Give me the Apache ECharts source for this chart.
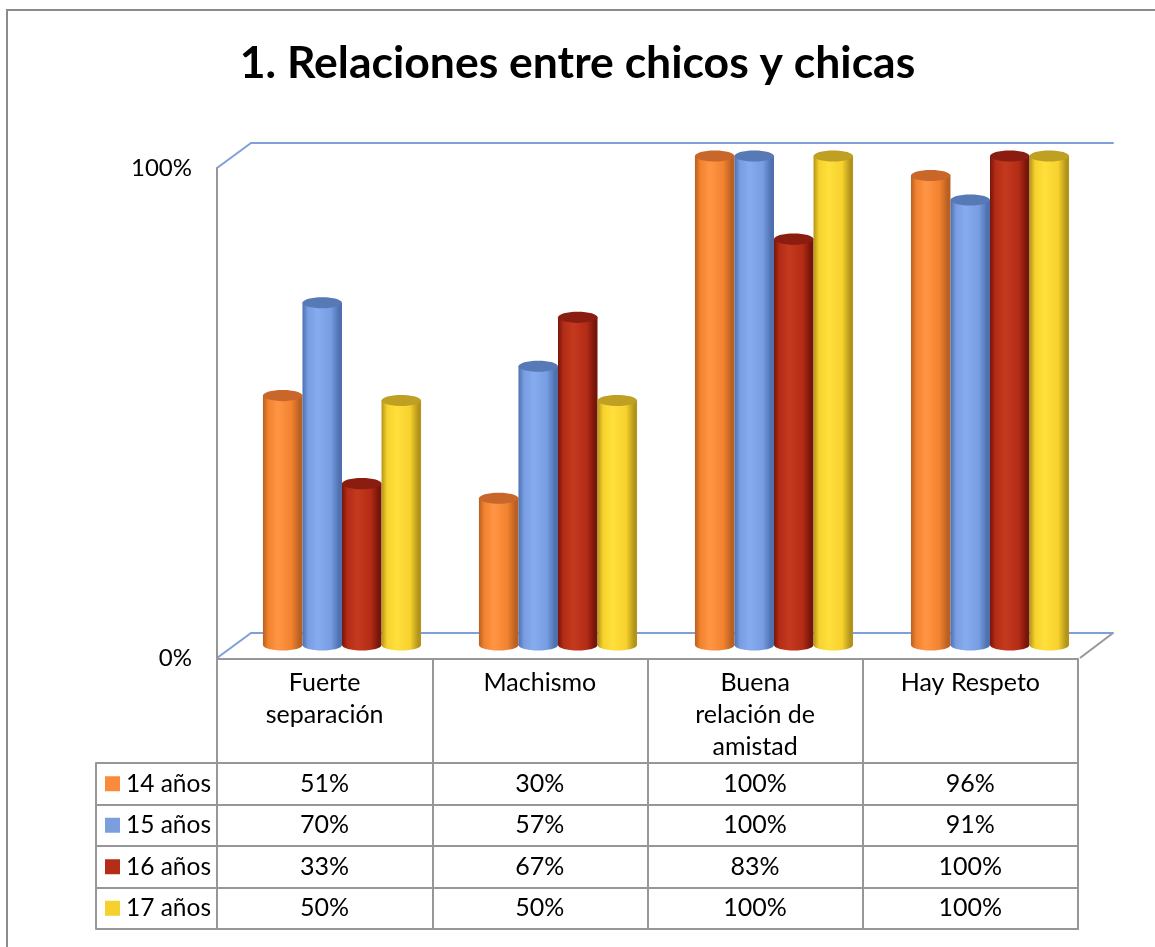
<!DOCTYPE html>
<html>
<head>
<meta charset="utf-8">
<script src="https://cdn.jsdelivr.net/npm/echarts@6/dist/echarts.min.js"></script>
<style>
  html, body { margin: 0; padding: 0; background: #fff; }
  #chart { width: 1155px; height: 947px; }
</style>
</head>
<body>
<div id="chart"></div>
<script>
// data
const categories = ['Fuerte\nseparación', 'Machismo', 'Buena\nrelación de\namistad', 'Hay Respeto'];
const seriesNames = ['14 años', '15 años', '16 años', '17 años'];
const values14 = [51, 30, 100, 96];
const values15 = [70, 57, 100, 91];
const values16 = [33, 67, 83, 100];
const values17 = [50, 50, 100, 100];
const yTicks = [0, 100];

const allValues = [values14, values15, values16, values17];

// styles
const FONT = 'Lato, "Open Sans", sans-serif';
const GRAY = '#979797';
const BLUE = '#7f9fd8';
const keyColors = ['#f98b3a', '#7b9fdd', '#b52c18', '#f5d02e'];
const shades = [
  { edge: '#b95f22', mid: '#f2832f', light: '#ff9545', top: '#c9672b' },
  { edge: '#4e70ae', mid: '#779de2', light: '#86abef', top: '#5779b5' },
  { edge: '#761609', mid: '#b52c17', light: '#c33a1e', top: '#8a1d10' },
  { edge: '#b3941a', mid: '#f7d22d', light: '#ffdf3c', top: '#bfa022' }
];

// layout (front and back planes of the 3D frame)
const FRONT = { left: 217, top: 168, right: 1080, bottom: 658 };
const BACK = { left: 251, top: 143, right: 1113, bottom: 633 };
const GROUP_RATIO = 0.732;

const chart = echarts.init(document.getElementById('chart'));

function cylinder(params, api) {
  const cat = api.value(0);
  const val = api.value(1);
  const base = api.coord([cat, 0]);
  const top = api.coord([cat, val]);
  const band = api.size([1, 0])[0];
  const groupW = band * GROUP_RATIO;
  const w = groupW / seriesNames.length;
  const x0 = base[0] - groupW / 2 + params.seriesIndex * w;
  const cx = x0 + w / 2;
  const ry = w * 0.14;
  const s = shades[params.seriesIndex];
  const body = new echarts.graphic.LinearGradient(0, 0, 1, 0, [
    { offset: 0, color: s.edge },
    { offset: 0.14, color: s.mid },
    { offset: 0.38, color: s.light },
    { offset: 0.72, color: s.mid },
    { offset: 0.93, color: s.edge },
    { offset: 1, color: s.edge }
  ]);
  return {
    type: 'group',
    children: [
      { type: 'ellipse', shape: { cx: cx, cy: base[1], rx: w / 2, ry: ry }, style: { fill: body } },
      { type: 'rect', shape: { x: x0, y: top[1], width: w, height: base[1] - top[1] }, style: { fill: body } },
      { type: 'ellipse', shape: { cx: cx, cy: top[1], rx: w / 2, ry: ry }, style: { fill: s.top } }
    ]
  };
}

const cylinderSeries = seriesNames.map((name, i) => ({
  name: name,
  type: 'custom',
  xAxisIndex: 2,
  yAxisIndex: 2,
  renderItem: cylinder,
  clip: false,
  data: allValues[i].map((v, c) => [c, v])
}));

const tableData = [];
allValues.forEach((row, r) => row.forEach((v, c) => tableData.push([c, r, v])));

const rich = { gap: { width: 6 } };
keyColors.forEach((c, i) => { rich['s' + i] = { width: 15, height: 15, backgroundColor: c }; });

const grayLine = { show: true, onZero: false, lineStyle: { color: GRAY, width: 2 } };
const blueLine = { show: true, onZero: false, lineStyle: { color: BLUE, width: 2 } };

const option = {
  animation: false,
  backgroundColor: '#fff',
  title: {
    text: '1. Relaciones entre chicos y chicas',
    left: 'center',
    top: 36,
    textStyle: { fontFamily: FONT, fontWeight: 'bold', fontSize: 44.5, color: '#000' }
  },
  graphic: [
    { type: 'rect', shape: { x: 7, y: 10, width: 1300, height: 1100 }, style: { fill: null, stroke: '#8c8c8c', lineWidth: 2 }, silent: true, z: -1 },
    { type: 'line', shape: { x1: FRONT.left, y1: FRONT.top, x2: BACK.left, y2: BACK.top }, style: { stroke: BLUE, lineWidth: 2 } },
    { type: 'line', shape: { x1: FRONT.left, y1: FRONT.bottom, x2: BACK.left, y2: BACK.bottom }, style: { stroke: BLUE, lineWidth: 2 } },
    { type: 'line', shape: { x1: FRONT.right, y1: FRONT.bottom, x2: BACK.right, y2: BACK.bottom }, style: { stroke: GRAY, lineWidth: 2 } }
  ],
  grid: [
    // 0: front plane (y axis labels)
    { left: FRONT.left, top: FRONT.top, width: FRONT.right - FRONT.left, height: FRONT.bottom - FRONT.top },
    // 1: back wall
    { left: BACK.left, top: BACK.top, width: BACK.right - BACK.left, height: BACK.bottom - BACK.top },
    // 2: cylinders (mid depth)
    { left: 234, top: 156, width: 864, height: 489 },
    // 3: table header
    { left: 217, top: 659, width: 861, height: 104 },
    // 4: table values
    { left: 217, top: 763, width: 861, height: 166 }
  ],
  xAxis: [
    { gridIndex: 0, type: 'category', data: categories, show: false },
    { gridIndex: 1, type: 'category', data: categories, position: 'top', axisLine: blueLine, axisTick: { show: false }, axisLabel: { show: false } },
    { gridIndex: 2, type: 'category', data: categories, show: false },
    {
      gridIndex: 3, type: 'category', data: categories, position: 'top',
      axisLine: grayLine,
      axisTick: { show: false },
      splitLine: { show: true, interval: 0, lineStyle: { color: GRAY, width: 2 } },
      axisLabel: { inside: true, interval: 0, margin: 8, verticalAlign: 'top', lineHeight: 32, fontFamily: FONT, fontSize: 25, color: '#000' }
    },
    {
      gridIndex: 4, type: 'category', data: categories,
      axisLine: grayLine,
      axisTick: { show: false }, axisLabel: { show: false },
      splitLine: { show: true, interval: 0, lineStyle: { color: GRAY, width: 2 } }
    },
    { gridIndex: 1, type: 'category', data: categories, position: 'bottom', axisLine: blueLine, axisTick: { show: false }, axisLabel: { show: false } }
  ],
  yAxis: [
    {
      gridIndex: 0, type: 'value', min: yTicks[0], max: yTicks[yTicks.length - 1], interval: 100,
      axisLine: grayLine,
      axisTick: { show: false }, splitLine: { show: false },
      axisLabel: { formatter: '{value}%', margin: 25, fontFamily: FONT, fontSize: 24, color: '#000' }
    },
    { gridIndex: 1, type: 'value', min: 0, max: 100, show: false },
    { gridIndex: 2, type: 'value', min: 0, max: 100, show: false },
    {
      gridIndex: 3, type: 'value', min: 0, max: 1,
      axisLine: grayLine,
      axisTick: { show: false }, axisLabel: { show: false }, splitLine: { show: false }
    },
    {
      gridIndex: 4, type: 'category', data: seriesNames, inverse: true,
      axisLine: grayLine,
      axisTick: { show: true, interval: 0, length: 121, lineStyle: { color: GRAY, width: 2 } },
      splitLine: { show: true, interval: 0, lineStyle: { color: GRAY, width: 2 } },
      axisLabel: {
        interval: 0, align: 'left', margin: 112, fontFamily: FONT, fontSize: 24.5, color: '#000',
        formatter: (val, idx) => '{s' + idx + '|}{gap|}' + val,
        rich: rich
      }
    },
    {
      gridIndex: 4, type: 'value', min: 0, max: 1, position: 'left', offset: 121,
      axisLine: grayLine,
      axisTick: { show: false }, axisLabel: { show: false }, splitLine: { show: false }
    },
    {
      gridIndex: 3, type: 'value', min: 0, max: 1, position: 'right',
      axisLine: grayLine,
      axisTick: { show: false }, axisLabel: { show: false }, splitLine: { show: false }
    },
    {
      gridIndex: 4, type: 'value', min: 0, max: 1, position: 'right',
      axisLine: grayLine,
      axisTick: { show: false }, axisLabel: { show: false }, splitLine: { show: false }
    }
  ],
  series: cylinderSeries.concat([{
    name: 'tabla',
    type: 'custom',
    xAxisIndex: 4,
    yAxisIndex: 4,
    data: tableData,
    renderItem: (params, api) => {
      const p = api.coord([api.value(0), api.value(1)]);
      return {
        type: 'text',
        style: {
          x: p[0], y: p[1], text: api.value(2) + '%',
          align: 'center', verticalAlign: 'middle',
          font: '25px ' + FONT, fill: '#000'
        }
      };
    }
  }])
};

chart.setOption(option);
window.addEventListener('resize', () => chart.resize());
</script>
</body>
</html>
